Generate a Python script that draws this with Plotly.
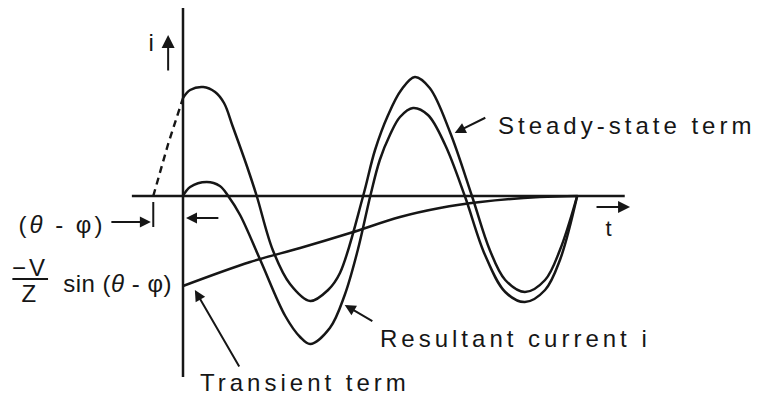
import plotly.graph_objects as go

# ---- curve samples: electrical angle wt (degrees) and current (per unit) ----
# steady-state sinusoidal term (solid part, from switching instant)
ss_wt = [0, 12, 34, 54, 69, 84, 108, 124, 151, 180, 214, 244, 264, 303,
         323, 345, 367, 390, 415, 449, 486, 516, 542, 575, 609, 634, 663]
ss_i = [0.98, 1.06, 1.09, 1.04, 0.93, 0.69, 0.29, 0.0, -0.54, -0.88, -1.05,
        -0.94, -0.77, 0.0, 0.46, 0.81, 1.06, 1.19, 1.08, 0.64, 0.0, -0.54,
        -0.84, -0.96, -0.84, -0.54, 0.0]

# steady-state term extended back before switching (dashed)
ss_back_wt = [-50, -25, 0]
ss_back_i = [0.0, 0.52, 0.98]

# resultant current i
res_wt = [0, 12, 40, 62, 76, 96, 130, 172, 197, 214, 247, 272, 294, 315,
          331, 348, 365, 387, 412, 441, 474, 508, 542, 575, 609, 634, 663]
res_i = [0.0, 0.09, 0.14, 0.10, 0.0, -0.19, -0.64, -1.20, -1.41, -1.48,
         -1.32, -0.99, -0.54, 0.0, 0.36, 0.61, 0.79, 0.88, 0.81, 0.51, 0.0,
         -0.59, -0.96, -1.06, -0.94, -0.64, 0.0]

# decaying transient term
tr_wt = [0, 113, 197, 281, 365, 432, 500, 600, 664]
tr_i = [-0.90, -0.66, -0.52, -0.37, -0.21, -0.12, -0.06, -0.01, 0.0]

INK = "#161616"
FONT = "Liberation Sans, Arial, Helvetica, sans-serif"

fig = go.Figure()

fig.add_trace(go.Scatter(x=ss_back_wt, y=ss_back_i, mode="lines",
                         line=dict(color=INK, width=2.4, dash="7px,5px"),
                         hoverinfo="skip"))
for xs, ys in ((ss_wt, ss_i), (res_wt, res_i), (tr_wt, tr_i)):
    fig.add_trace(go.Scatter(x=xs, y=ys, mode="lines",
                             line=dict(color=INK, width=2.5, shape="spline",
                                       smoothing=1.0),
                             hoverinfo="skip"))

# i and t axes
fig.add_shape(type="line", x0=-86, x1=743, y0=0, y1=0,
              line=dict(color=INK, width=2.5))
fig.add_shape(type="line", x0=0, x1=0, y0=-1.81, y1=1.88,
              line=dict(color=INK, width=2.5))
# tick marking the start of the dashed steady-state wave
fig.add_shape(type="line", x0=-50, x1=-50, y0=-0.06, y1=-0.31,
              line=dict(color=INK, width=2))
# fraction bar of -V/Z
fig.add_shape(type="line", x0=-287, x1=-227, y0=-0.83, y1=-0.83,
              line=dict(color=INK, width=2))


def arrow(x_tail, y_tail, x_tip, y_tip, size=1.1):
    fig.add_annotation(x=x_tip, y=y_tip, ax=x_tail, ay=y_tail,
                       xref="x", yref="y", axref="x", ayref="y",
                       text="", showarrow=True, arrowhead=2,
                       arrowsize=size, arrowwidth=2, arrowcolor=INK,
                       standoff=0, startstandoff=0)


def label(x, y, text, size=24):
    fig.add_annotation(x=x, y=y, xref="x", yref="y", text=text,
                       showarrow=False, xanchor="center", yanchor="middle",
                       font=dict(family=FONT, size=size, color=INK))


arrow(-25, 1.24, -25, 1.61, 1.3)      # i direction
arrow(693, -0.11, 752, -0.11, 1.2)    # t direction
arrow(511, 0.79, 457, 0.63)           # steady-state pointer
arrow(321, -1.26, 272, -1.09)         # resultant pointer
arrow(96, -1.72, 20, -0.94)           # transient pointer
arrow(-123, -0.26, -54, -0.26)        # (theta - phi) from the left
arrow(62, -0.22, 5, -0.22)            # (theta - phi) from the right

label(746, 0.71, "Steady-state term")
label(560, -1.42, "Resultant current i")
label(205, -1.865, "Transient term")
label(-52, 1.54, "i", 24)
label(718, -0.32, "t", 22)
label(-204, -0.28, "(<i>θ</i> - φ)")
label(-257, -0.71, "−V")
label(-257, -0.97, "Z")
label(-110, -0.87, "sin (<i>θ</i> - φ)")

fig.update_layout(
    width=760, height=400,
    margin=dict(l=0, r=0, t=0, b=0),
    paper_bgcolor="white", plot_bgcolor="white",
    showlegend=False,
    xaxis=dict(range=[-307.8, 970.5], visible=False, fixedrange=True),
    yaxis=dict(range=[-2.04, 1.96], visible=False, fixedrange=True),
)

# widen the lettering of the annotation texts (typewriter-like tracking)
spacing_js = """
var gd = document.getElementById('{plot_id}');
function track() {
  document.querySelectorAll('.annotation-text').forEach(function (e) {
    var t = e.textContent;
    var s = t.indexOf('sin') === 0 ? '0.5px' : (t.length > 8 ? '4px' : '3px');
    e.style.letterSpacing = s;
  });
}
track();
if (gd && gd.on) { gd.on('plotly_afterplot', track); }
"""
fig.write_html("out.html", post_script=spacing_js,
               config={"displayModeBar": False, "staticPlot": True})
